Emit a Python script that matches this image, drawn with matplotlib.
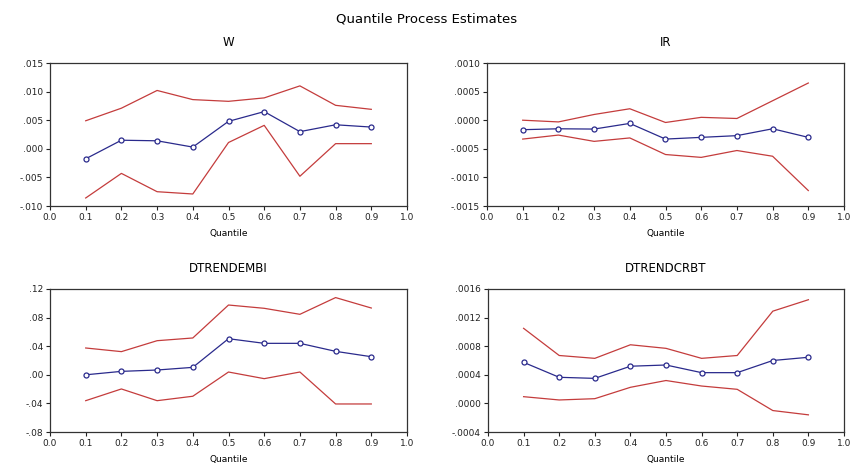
import matplotlib
matplotlib.use("Agg")
import matplotlib.pyplot as plt
from matplotlib.ticker import FuncFormatter, MultipleLocator

plt.rcParams['font.family'] = ['DejaVu Sans']

quantiles = [0.1, 0.2, 0.3, 0.4, 0.5, 0.6, 0.7, 0.8, 0.9]

w_est = [-0.00175, 0.0015, 0.0014, 0.0003, 0.0048, 0.0065, 0.0030, 0.0042, 0.0038]
w_up = [0.0049, 0.0071, 0.0102, 0.0086, 0.0083, 0.0089, 0.0110, 0.0076, 0.0069]
w_lo = [-0.0086, -0.0043, -0.0075, -0.0079, 0.0011, 0.0041, -0.0048, 0.0009, 0.0009]

ir_est = [-0.000166, -0.00015, -0.000155, -0.000056, -0.00033, -0.00030, -0.00027, -0.00015, -0.00030]
ir_up = [0.0, -0.00003, 0.00010, 0.00020, -0.00004, 0.00005, 0.00003, 0.00034, 0.00065]
ir_lo = [-0.00033, -0.00026, -0.00037, -0.00031, -0.00060, -0.00065, -0.00053, -0.00063, -0.00123]

embi_est = [0.0, 0.0048, 0.0067, 0.0104, 0.0505, 0.0440, 0.0440, 0.0328, 0.0253]
embi_up = [0.0375, 0.0324, 0.0477, 0.0515, 0.0976, 0.0930, 0.0846, 0.1080, 0.0934]
embi_lo = [-0.0362, -0.0198, -0.0362, -0.0300, 0.0039, -0.0054, 0.0039, -0.0408, -0.0408]

crbt_est = [0.000574, 0.000365, 0.00035, 0.00052, 0.000537, 0.00043, 0.00043, 0.00060, 0.000645]
crbt_up = [0.00105, 0.00067, 0.00063, 0.00082, 0.00077, 0.00063, 0.00067, 0.00129, 0.00145]
crbt_lo = [0.000094, 0.000048, 0.000066, 0.000225, 0.00032, 0.000243, 0.000197, -0.00010, -0.00016]

titles = ["W", "IR", "DTRENDEMBI", "DTRENDCRBT"]
ylims = [(-0.010, 0.015), (-0.0015, 0.0010), (-0.08, 0.12), (-0.0004, 0.0016)]
ysteps = [0.005, 0.0005, 0.04, 0.0004]
ydec = [3, 4, 2, 4]

fig = plt.figure(figsize=(8.53, 4.66), dpi=100)
fig.text(0.5, 1 - 19/466, "Quantile Process Estimates", ha='center', va='center', fontsize=9.5)

positions = [
    (50/853, 1-206/466, 357/853, 143/466),
    (487/853, 1-206/466, 357/853, 143/466),
    (50/853, 1-432/466, 357/853, 143/466),
    (488/853, 1-432/466, 356/853, 143/466),
]

data = [(w_est, w_up, w_lo), (ir_est, ir_up, ir_lo),
        (embi_est, embi_up, embi_lo), (crbt_est, crbt_up, crbt_lo)]

red = '#c43c3c'
blue = '#2a2a8c'

def make_fmt(d):
    def f(v, pos):
        s = f"{v:.{d}f}"
        if abs(v) < 10**(-d-2):
            s = f"{0:.{d}f}"
        if s.startswith("0."):
            s = s[1:]
        elif s.startswith("-0."):
            s = "-" + s[2:]
        return s
    return FuncFormatter(f)

for i, pos in enumerate(positions):
    ax = fig.add_axes(pos)
    est, up, lo = data[i]
    ax.plot(quantiles, up, color=red, lw=0.9)
    ax.plot(quantiles, lo, color=red, lw=0.9)
    ax.plot(quantiles, est, color=blue, lw=0.9, marker='o', ms=3.6,
            mfc='white', mec=blue, mew=0.9)
    ax.set_xlim(0.0, 1.0)
    ax.set_ylim(*ylims[i])
    ax.xaxis.set_major_locator(MultipleLocator(0.1))
    ax.yaxis.set_major_locator(MultipleLocator(ysteps[i]))
    ax.xaxis.set_major_formatter(FuncFormatter(lambda v, p: f"{v:.1f}"))
    ax.yaxis.set_major_formatter(make_fmt(ydec[i]))
    ax.tick_params(axis='both', labelsize=6.5, length=3, width=0.8, direction='out', pad=2, colors='#222222')
    for s in ax.spines.values():
        s.set_linewidth(0.9)
        s.set_color('#333333')
    ax.set_title(titles[i], fontsize=8.5, pad=12)
    ax.set_xlabel("Quantile", fontsize=6.5, labelpad=5)

fig.savefig("out.png", dpi=100)
